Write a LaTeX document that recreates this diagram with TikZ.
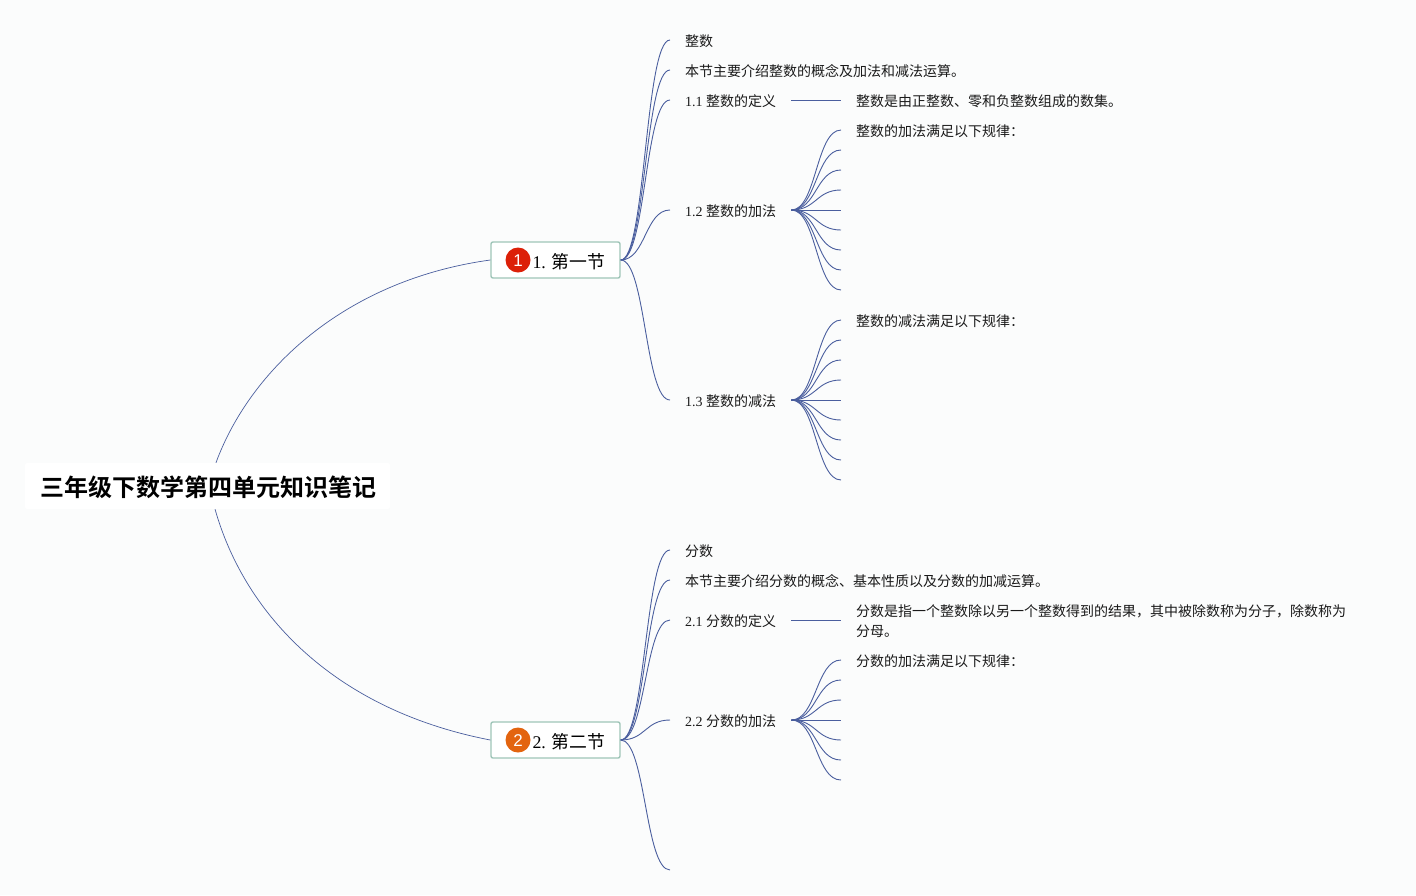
\documentclass[tikz,border=0pt]{standalone}
\usepackage{fontspec}
\usepackage{xcolor}
\setmainfont{Liberation Serif}
\newfontfamily\cjk[BoldFont={Noto Sans CJK SC Bold}]{Noto Sans CJK SC}
\newfontfamily\badgefont{Liberation Sans}
\definecolor{paper}{HTML}{FBFCFC}
\definecolor{linkblue}{HTML}{4A5E9E}
\definecolor{boxedge}{HTML}{9FC5B8}
\definecolor{inkblack}{HTML}{1A1A1A}
\definecolor{badgered}{HTML}{DC2008}
\definecolor{badgeorange}{HTML}{E3640F}
\tikzset{
  link/.style={draw=linkblue, line width=0.9pt, out=0, in=180, distance=25pt},
  branch/.style={draw=linkblue, line width=0.7pt},
  leaf/.style={anchor=west, inner xsep=15pt, inner ysep=0pt, text height=13pt, text depth=0pt, text=inkblack, font=\fontsize{14}{20}\selectfont},
  section/.style={draw=boxedge, line width=1.4pt, fill=white, rounded corners=2pt, minimum width=129pt, minimum height=36pt, inner sep=0pt, text height=17pt, text depth=0pt, text=black, font=\fontsize{17.85}{20}\selectfont},
  badge/.style={circle, minimum size=25pt, inner sep=0pt, text height=13.5pt, text depth=0pt, text=white, font=\fontsize{17}{17}\selectfont\badgefont}
}
\begin{document}
\begin{tikzpicture}[x=1pt, y=-1pt]
      \fill[paper] (0,0) rectangle (1416,895);
      \node[fill=white, rounded corners=2pt, minimum width=365pt, minimum height=46pt, inner sep=0pt, text height=20pt, text depth=0pt, font=\fontsize{24}{24}\selectfont\cjk\bfseries] (root) at (207.5,486) {\hspace{2pt}三年级下数学第四单元知识笔记};
      \node[section] (sec1) at (555.5,260) {\hspace{27pt}1. {\cjk 第一节}};
      \node[section] (sec2) at (555.5,740) {\hspace{27pt}2. {\cjk 第二节}};
      \node[badge, fill=badgered] (badge1) at (518,260) {1};
      \node[badge, fill=badgeorange] (badge2) at (518,740) {2};
      \draw[branch] (root.70) .. controls (250,370) and (345,280) .. (sec1.west);
      \draw[branch] (root.-72) .. controls (245,615) and (335,710) .. (sec2.west);
      \begin{scope}[every node/.style={leaf}]
        \node (int) at (670,40) {\cjk 整数};
        \node (intro1) at (670,70) {\cjk 本节主要介绍整数的概念及加法和减法运算。};
        \node (def1) at (670,100) {1.1 {\cjk 整数的定义}};
        \node (add1) at (670,210) {1.2 {\cjk 整数的加法}};
        \node (sub1) at (670,400) {1.3 {\cjk 整数的减法}};
        \node (defnote1) at (841,100) {\cjk 整数是由正整数、零和负整数组成的数集。};
        \node (addnote1) at (841,130) {\cjk 整数的加法满足以下规律：};
        \node (subnote1) at (841,320) {\cjk 整数的减法满足以下规律：};
        \node (frac) at (670,550) {\cjk 分数};
        \node (intro2) at (670,580) {\cjk 本节主要介绍分数的概念、基本性质以及分数的加减运算。};
        \node (def2) at (670,620) {2.1 {\cjk 分数的定义}};
        \node (add2) at (670,720) {2.2 {\cjk 分数的加法}};
        \node[align=left, text height=33pt, text depth=0pt] (defnote2) at (841,620) {\cjk 分数是指一个整数除以另一个整数得到的结果，其中被除数称为分子，除数称为\\\cjk 分母。};
        \node (addnote2) at (841,660) {\cjk 分数的加法满足以下规律：};
      \end{scope}
      \coordinate (more) at (670,870);
      \foreach \target in {int,intro1,def1,add1,sub1}
        \draw[link] (sec1.east) to (\target.west);
      \foreach \target in {frac,intro2,def2,add2}
        \draw[link] (sec2.east) to (\target.west);
      \draw[link] (sec2.east) to (more);
      \draw[link] (def1.east) to (defnote1.west);
      \draw[link] (def2.east) to (defnote2.west);
      \draw[link] (add1.east) to (addnote1.west);
      \draw[link] (sub1.east) to (subnote1.west);
      \draw[link] (add2.east) to (addnote2.west);
      \foreach \y in {150,170,...,290} {
        \coordinate (addend) at (841,\y);
        \draw[link] (add1.east) to (addend);
      }
      \foreach \y in {340,360,...,480} {
        \coordinate (subend) at (841,\y);
        \draw[link] (sub1.east) to (subend);
      }
      \foreach \y in {680,700,...,780} {
        \coordinate (fracend) at (841,\y);
        \draw[link] (add2.east) to (fracend);
      }
\end{tikzpicture}
\end{document}
